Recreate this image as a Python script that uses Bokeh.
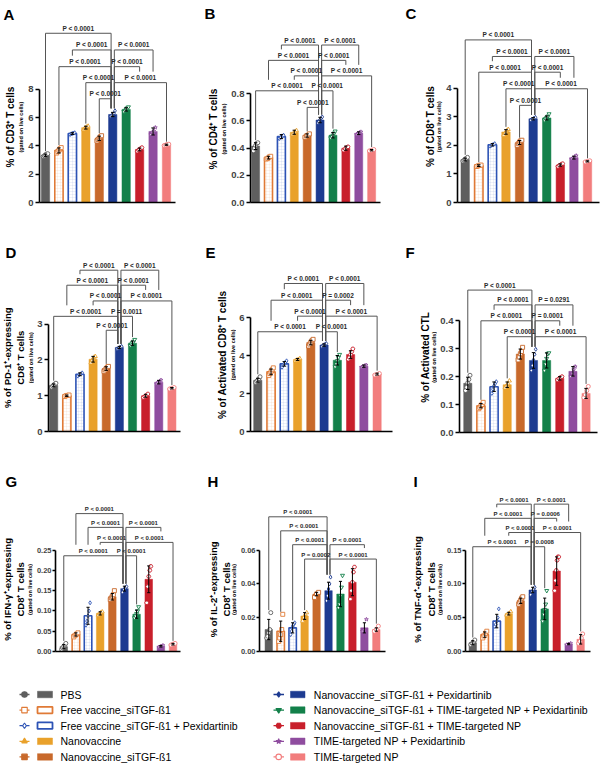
import math
from bokeh.plotting import figure
from bokeh.models import Range1d, FixedTicker, ColumnDataSource
from bokeh.layouts import row, column
from bokeh.embed import file_html
from bokeh.resources import INLINE
from bokeh.core.properties import value

FONT = "Liberation Sans"

# ---------------- data ----------------
groups = ["PBS", "Free vaccine_siTGF-ß1", "Free vaccine_siTGF-ß1 + Pexidartinib", "Nanovaccine",
          "Nanovaccine_siTGF-ß1", "Nanovaccine_siTGF-ß1 + Pexidartinib",
          "Nanovaccine_siTGF-ß1 + TIME-targeted NP + Pexidartinib",
          "Nanovaccine_siTGF-ß1 + TIME-targeted NP", "TIME-targeted NP + Pexidartinib", "TIME-targeted NP"]
colors = ["#5f5f5f", "#e07a36", "#2d53b5", "#e9a12b", "#c8692b", "#1d3b91", "#13804a", "#c81f2b",
          "#8f4d9f", "#f27d7d"]
markers = ["circle", "square", "diamond", "triangle", "square", "diamond", "inverted_triangle", "hex",
           "star", "circle"]
hollow_bar = [False, True, True, False, False, False, False, False, False, False]
hollow_marker = [False, True, True, False, False, False, False, False, False, True]

# Panel A: % of CD3+ T cells
A_mean = [3.34, 3.68, 4.87, 5.29, 4.54, 6.22, 6.58, 3.75, 5.02, 4.08]
A_sd = [0.08, 0.18, 0.06, 0.10, 0.15, 0.15, 0.12, 0.10, 0.25, 0.04]
A_pts = [[3.25, 3.30, 3.38, 3.42, 3.45], [3.50, 3.60, 3.70, 3.80, 3.88], [4.80, 4.85, 4.88, 4.90, 4.93],
         [5.15, 5.25, 5.30, 5.35, 5.40], [4.35, 4.45, 4.55, 4.65, 4.72], [6.10, 6.15, 6.20, 6.30, 6.48],
         [6.42, 6.50, 6.60, 6.68, 6.75], [3.62, 3.70, 3.75, 3.82, 3.88], [4.80, 4.95, 5.05, 5.30],
         [4.03, 4.06, 4.10, 4.12]]
A_ticks = [0, 2, 4, 6, 8]
A_ticklabels = ["0", "2", "4", "6", "8"]
A_ylabel = ["% of CD3⁺ T cells"]
A_brackets = [(1, 6, 11.96, "P < 0.0001"), (3, 6, 10.78, "P < 0.0001"), (6, 9, 10.78, "P < 0.0001"),
              (2, 6, 9.60, "P < 0.0001"), (6, 8, 9.60, "P < 0.0001"), (4, 6, 8.47, "P < 0.0001"),
              (6, 10, 8.47, "P < 0.0001"), (5, 6, 7.33, "P < 0.0001")]

# Panel B: % of CD4+ T cells
B_mean = [0.415, 0.330, 0.485, 0.517, 0.493, 0.607, 0.495, 0.400, 0.510, 0.385]
B_sd = [0.025, 0.010, 0.015, 0.015, 0.012, 0.020, 0.020, 0.015, 0.010, 0.005]
B_pts = [[0.38, 0.40, 0.42, 0.435, 0.44], [0.32, 0.325, 0.335, 0.34], [0.47, 0.48, 0.49, 0.495],
         [0.50, 0.51, 0.52, 0.53], [0.48, 0.49, 0.495, 0.505], [0.585, 0.595, 0.61, 0.62, 0.63],
         [0.475, 0.485, 0.495, 0.51, 0.525], [0.385, 0.395, 0.405, 0.41], [0.50, 0.51, 0.515, 0.52],
         [0.38, 0.385, 0.39]]
B_ticks = [0, 0.2, 0.4, 0.6, 0.8]
B_ticklabels = ["0.0", "0.2", "0.4", "0.6", "0.8"]
B_ylabel = ["% of CD4⁺ T cells"]
B_brackets = [(3, 6, 1.159, "P < 0.0001"), (6, 9, 1.159, "P < 0.0001"), (2, 6, 1.046, "P < 0.0001"),
              (6, 8, 1.046, "P < 0.0001"), (4, 6, 0.932, "P < 0.0001"), (6, 10, 0.932, "P < 0.0001"),
              (1, 6, 0.822, "P < 0.0001"), (6, 7, 0.822, "P < 0.0001"), (5, 6, 0.700, "P < 0.0001")]

# Panel C: % of CD8+ T cells
C_mean = [1.505, 1.29, 2.02, 2.47, 2.10, 2.93, 2.96, 1.31, 1.57, 1.44]
C_sd = [0.05, 0.03, 0.04, 0.08, 0.07, 0.04, 0.07, 0.04, 0.05, 0.02]
C_pts = [[1.45, 1.48, 1.52, 1.55, 1.58], [1.26, 1.28, 1.30, 1.31], [1.97, 2.00, 2.03, 2.06],
         [2.36, 2.42, 2.48, 2.53, 2.56], [2.00, 2.06, 2.12, 2.16, 2.18], [2.88, 2.92, 2.95, 2.98],
         [2.88, 2.93, 2.97, 3.02, 3.10], [1.26, 1.30, 1.33, 1.36], [1.52, 1.56, 1.60, 1.64],
         [1.42, 1.44, 1.46]]
C_ticks = [0, 1, 2, 3, 4]
C_ticklabels = ["0", "1", "2", "3", "4"]
C_ylabel = ["% of CD8⁺ T cells"]
C_brackets = [(1, 6, 5.69, "P < 0.0001"), (3, 6, 5.11, "P < 0.0001"), (6, 9, 5.11, "P < 0.0001"),
              (2, 6, 4.56, "P < 0.0001"), (6, 8, 4.56, "P < 0.0001"), (4, 6, 3.98, "P < 0.0001"),
              (6, 10, 3.98, "P < 0.0001"), (5, 6, 3.40, "P < 0.0001")]

# Panel D: % of PD-1+-expressing CD8+ T cells
D_mean = [1.29, 1.00, 1.60, 2.02, 1.76, 2.35, 2.47, 1.00, 1.38, 1.21]
D_sd = [0.04, 0.02, 0.04, 0.08, 0.05, 0.03, 0.06, 0.04, 0.05, 0.02]
D_pts = [[1.24, 1.27, 1.30, 1.33, 1.35], [0.98, 1.00, 1.01, 1.02], [1.55, 1.58, 1.61, 1.64],
         [1.92, 1.98, 2.04, 2.08, 2.10], [1.68, 1.72, 1.76, 1.80, 1.82], [2.31, 2.33, 2.36, 2.38],
         [2.40, 2.44, 2.48, 2.52, 2.57], [0.95, 0.98, 1.01, 1.05], [1.33, 1.37, 1.40, 1.44],
         [1.19, 1.21, 1.23]]
D_ticks = [0, 1, 2, 3]
D_ticklabels = ["0", "1", "2", "3"]
D_ylabel = ["% of PD-1⁺-expressing", "CD8⁺ T cells"]
D_brackets = [(3, 6, 4.51, "P < 0.0001"), (6, 9, 4.51, "P < 0.0001"), (2, 6, 4.09, "P < 0.0001"),
              (6, 8, 4.09, "P < 0.0001"), (4, 6, 3.65, "P < 0.0001"), (6, 10, 3.65, "P < 0.0001"),
              (1, 6, 3.22, "P < 0.0001"), (6, 7, 3.22, "P = 0.0011"), (5, 6, 2.83, "P < 0.0001")]

# Panel E: % of Activated CD8+ T cells
E_mean = [2.70, 3.14, 3.56, 3.79, 4.68, 4.55, 3.75, 4.05, 3.44, 3.02]
E_sd = [0.10, 0.15, 0.12, 0.05, 0.12, 0.06, 0.25, 0.20, 0.06, 0.05]
E_pts = [[2.58, 2.64, 2.70, 2.78, 2.88], [2.95, 3.05, 3.15, 3.25, 3.35], [3.38, 3.50, 3.58, 3.65, 3.72],
         [3.72, 3.76, 3.80, 3.84], [4.50, 4.60, 4.70, 4.78, 4.85], [4.47, 4.52, 4.56, 4.60, 4.63],
         [3.40, 3.55, 3.72, 3.90, 4.05], [3.80, 3.90, 4.05, 4.20, 4.35], [3.38, 3.42, 3.46, 3.50],
         [2.97, 3.00, 3.05]]
E_ticks = [0, 2, 4, 6]
E_ticklabels = ["0", "2", "4", "6"]
E_ylabel = ["% of Activated CD8⁺ T cells"]
E_brackets = [(3, 6, 7.79, "P < 0.0001"), (6, 9, 7.79, "P < 0.0001"), (2, 6, 6.91, "P < 0.0001"),
              (6, 8, 6.91, "P = 0.0002"), (4, 6, 6.07, "P < 0.0001"), (6, 10, 6.07, "P < 0.0001"),
              (1, 6, 5.25, "P < 0.0001"), (6, 7, 5.25, "P < 0.0001")]

# Panel F: % of Activated CTL
F_mean = [0.176, 0.096, 0.164, 0.171, 0.281, 0.258, 0.258, 0.194, 0.219, 0.140]
F_sd = [0.022, 0.008, 0.017, 0.010, 0.018, 0.028, 0.027, 0.006, 0.017, 0.018]
F_pts = [[0.150, 0.162, 0.178, 0.190, 0.205], [0.085, 0.090, 0.097, 0.100, 0.108],
         [0.140, 0.155, 0.168, 0.175, 0.182], [0.160, 0.167, 0.175, 0.185],
         [0.260, 0.270, 0.282, 0.290, 0.305], [0.222, 0.240, 0.260, 0.280, 0.298],
         [0.222, 0.245, 0.265, 0.282, 0.285], [0.188, 0.193, 0.197, 0.200],
         [0.200, 0.212, 0.225, 0.236], [0.125, 0.135, 0.150, 0.165]]
F_ticks = [0, 0.1, 0.2, 0.3, 0.4]
F_ticklabels = ["0.0", "0.1", "0.2", "0.3", "0.4"]
F_ylabel = ["% of Activated CTL"]
F_brackets = [(1, 6, 0.510, "P < 0.0001"), (3, 6, 0.457, "P < 0.0001"), (6, 9, 0.457, "P = 0.0291"),
              (2, 6, 0.400, "P < 0.0001"), (6, 8, 0.400, "P = 0.0001"), (4, 6, 0.343, "P < 0.0001"),
              (6, 10, 0.343, "P < 0.0001")]

# Panel G: % of IFN-g+-expressing CD8+ T cells
G_mean = [0.012, 0.042, 0.088, 0.094, 0.135, 0.155, 0.092, 0.178, 0.013, 0.018]
G_sd = [0.005, 0.004, 0.021, 0.004, 0.008, 0.006, 0.010, 0.033, 0.002, 0.002]
G_pts = [[0.005, 0.009, 0.013, 0.016, 0.020], [0.036, 0.040, 0.043, 0.046],
         [0.065, 0.075, 0.088, 0.100, 0.120], [0.090, 0.093, 0.096, 0.098],
         [0.128, 0.132, 0.136, 0.140, 0.150], [0.146, 0.152, 0.157, 0.160],
         [0.083, 0.088, 0.093, 0.100, 0.110], [0.120, 0.160, 0.185, 0.200, 0.210],
         [0.011, 0.013, 0.015], [0.016, 0.018, 0.020]]
G_ticks = [0, 0.05, 0.1, 0.15, 0.2, 0.25]
G_ticklabels = ["0.00", "0.05", "0.10", "0.15", "0.20", "0.25"]
G_ylabel = ["% of IFN-γ⁺-expressing", "CD8⁺ T cells"]
G_brackets = [(2, 6, 0.340, "P < 0.0001"), (3, 6, 0.306, "P < 0.0001"), (6, 9, 0.306, "P < 0.0001"),
              (4, 6, 0.269, "P < 0.0001"), (6, 10, 0.269, "P < 0.0001"), (1, 6, 0.236, "P < 0.0001"),
              (6, 7, 0.236, "P < 0.0001")]

# Panel H: % of IL-2+-expressing CD8+ T cells
H_mean = [0.013, 0.012, 0.014, 0.021, 0.034, 0.036, 0.034, 0.041, 0.014, 0.013]
H_sd = [0.006, 0.006, 0.003, 0.002, 0.001, 0.005, 0.0075, 0.008, 0.003, 0.001]
H_pts = [[0.008, 0.009, 0.011, 0.013, 0.023], [0.006, 0.008, 0.010, 0.013, 0.022],
         [0.010, 0.012, 0.015, 0.016, 0.017], [0.018, 0.020, 0.022, 0.023], [0.032, 0.034, 0.035],
         [0.030, 0.033, 0.037, 0.040, 0.044], [0.026, 0.028, 0.033, 0.038, 0.045],
         [0.031, 0.036, 0.041, 0.047, 0.050], [0.012, 0.013, 0.019], [0.012, 0.013, 0.015]]
H_ticks = [0, 0.02, 0.04, 0.06]
H_ticklabels = ["0.00", "0.02", "0.04", "0.06"]
H_ylabel = ["% of IL-2⁺-expressing", "CD8⁺ T cells"]
H_brackets = [(1, 6, 0.0797, "P < 0.0001"), (2, 6, 0.0714, "P < 0.0001"), (3, 6, 0.0632, "P < 0.0001"),
              (6, 9, 0.0632, "P < 0.0001"), (4, 6, 0.0547, "P = 0.0002"), (6, 10, 0.0547, "P < 0.0001")]

# Panel I: % of TNF-a+-expressing CD8+ T cells
I_mean = [0.013, 0.025, 0.045, 0.056, 0.075, 0.091, 0.063, 0.119, 0.011, 0.018]
I_sd = [0.003, 0.004, 0.010, 0.002, 0.004, 0.004, 0.016, 0.021, 0.001, 0.007]
I_pts = [[0.010, 0.012, 0.014, 0.017], [0.020, 0.023, 0.027, 0.030], [0.037, 0.040, 0.045, 0.050, 0.063],
         [0.054, 0.056, 0.059], [0.070, 0.073, 0.076, 0.079, 0.081], [0.084, 0.088, 0.092, 0.095],
         [0.045, 0.055, 0.062, 0.070, 0.090], [0.090, 0.105, 0.120, 0.135, 0.140, 0.140],
         [0.010, 0.011, 0.012], [0.012, 0.015, 0.020, 0.026]]
I_ticks = [0, 0.05, 0.1, 0.15]
I_ticklabels = ["0.00", "0.05", "0.10", "0.15"]
I_ylabel = ["% of TNF-α⁺-expressing", "CD8⁺ T cells"]
I_brackets = [(3, 6, 0.218, "P < 0.0001"), (6, 9, 0.218, "P < 0.0001"), (2, 6, 0.197, "P < 0.0001"),
              (6, 8, 0.197, "P = 0.0006"), (4, 6, 0.176, "P < 0.0001"), (6, 10, 0.176, "P < 0.0001"),
              (1, 6, 0.155, "P < 0.0001"), (6, 7, 0.155, "P = 0.0008")]

SUB_LABEL = "(gated on live cells)"

# ---------------- layout (page pixels) ----------------
COL_LEFT = [0, 200, 400]
COL_W = [200, 200, 200]
ROW_TOP = [0, 232, 463]
ROW_H = [232, 231, 205]

GEO = {
    "A": dict(axis=39, end=175, first=45, last=166, zero=201.5, top=88.3, ta=14,
              lab=[10], sub=20.5, letter=(3, 16)),
    "B": dict(axis=248.3, end=380, first=253.5, last=371.3, zero=202, top=93.3, ta=20,
              lab=[13], sub=23, letter=(4, 15)),
    "C": dict(axis=457.3, end=599, first=465, last=587.3, zero=202, top=87.7, ta=14,
              lab=[30], sub=38.5, letter=(5, 15)),
    "D": dict(axis=48.3, end=180, first=53.5, last=171.7, zero=431.3, top=324, ta=14,
              lab=[6.7, 19.5], sub=30.3, letter=(5, 23)),
    "E": dict(axis=248.3, end=391.7, first=255.7, last=376.7, zero=431.3, top=317.3, ta=12,
              lab=[21.7], sub=32.5, letter=(5, 23)),
    "F": dict(axis=457.3, end=596.7, first=465.7, last=585.7, zero=431.7, top=320, ta=20,
              lab=[25], sub=33.5, letter=(5, 23)),
    "G": dict(axis=53.3, end=180, first=61.7, last=172.7, zero=650.7, top=549.3, ta=20,
              lab=[6.7, 20], sub=29.8, letter=(5, 20)),
    "H": dict(axis=257.3, end=385, first=266.7, last=376, zero=650.7, top=549.3, ta=20,
              lab=[13.3, 26], sub=33.8, letter=(7, 20)),
    "I": dict(axis=463.3, end=590, first=470.7, last=580.3, zero=650.7, top=549.3, ta=20,
              lab=[17.3, 30.7], sub=39.8, letter=(13, 20)),
}


def make_panel(key, col, rowi, means, sds, pts, ticks, ticklabels, ylabel, brackets, small=False):
    g = GEO[key]
    CW, H = COL_W[col], ROW_H[rowi]
    cl, rt = COL_LEFT[col], ROW_TOP[rowi]
    ax = g["axis"] - cl
    LW = int(round(ax - g["ta"]))
    W = CW - LW
    L = int(round(ax)) - LW
    R = int(round(CW - (g["end"] - cl)))
    z = g["zero"] - rt
    B = int(round(H - z))
    fh = H - B
    fw = W - L - R
    ppu = (g["zero"] - g["top"]) / ticks[-1]
    ytop = fh / ppu
    sp = (g["last"] - g["first"]) / 9.0
    x0 = 1 - (g["first"] - g["axis"]) / sp
    x1 = x0 + fw / sp

    # ---- side strip holding the panel letter and rotated axis titles ----
    s = figure(width=LW, height=H, x_range=Range1d(0, LW), y_range=Range1d(0, H),
               x_axis_type=None, y_axis_type=None, output_backend="svg", toolbar_location=None,
               min_border=0)
    s.outline_line_color = None
    s.grid.visible = False
    ymid = H - (fh - ticks[-1] * ppu / 2.0)
    main_size = "9.5px" if len(ylabel) > 1 else "10px"
    s.text(x=g["lab"], y=[ymid] * len(ylabel), text=ylabel, angle=math.pi / 2,
           text_align="center", text_baseline="middle", text_font=value(FONT),
           text_font_size=value(main_size), text_font_style="bold", text_color="black")
    s.text(x=[g["sub"]], y=[ymid], text=[SUB_LABEL], angle=math.pi / 2, text_align="center",
           text_baseline="middle", text_font=value(FONT), text_font_size=value("5.5px"),
           text_font_style="bold", text_color="black")
    lx, lb = g["letter"]
    s.text(x=[lx], y=[H - lb], text=[key], text_align="left", text_baseline="alphabetic",
           text_font=value(FONT), text_font_size=value("15px"), text_font_style="bold",
           text_color="black")

    # ---- the bar chart ----
    p = figure(width=W, height=H, x_range=Range1d(x0, x1), y_range=Range1d(0, ytop),
               output_backend="svg", toolbar_location=None, min_border_left=L, min_border_right=R,
               min_border_top=0, min_border_bottom=B)
    p.outline_line_color = None
    p.grid.visible = False

    yax = p.yaxis[0]
    yax.ticker = FixedTicker(ticks=ticks)
    yax.major_label_overrides = {t: lab for t, lab in zip(ticks, ticklabels)}
    yax.bounds = (0, ticks[-1])
    yax.axis_line_width = 1.6
    yax.major_tick_line_width = 1.6
    yax.major_tick_out = 3 if small else 4
    yax.major_tick_in = 0
    yax.minor_tick_line_color = None
    yax.major_label_text_font = FONT
    yax.major_label_text_font_style = "bold"
    yax.major_label_text_font_size = "7.5px" if small else "9.5px"
    yax.major_label_standoff = 1 if small else 2
    xax = p.xaxis[0]
    xax.ticker = FixedTicker(ticks=[])
    xax.axis_line_width = 1.6
    xax.major_tick_line_color = None
    xax.minor_tick_line_color = None
    xax.major_label_standoff = 0

    xs = list(range(1, 11))
    src = ColumnDataSource(dict(
        x=xs, top=means,
        fill=["white" if h else c for h, c in zip(hollow_bar, colors)],
        line=colors,
        lw=[1.6 if h else 0.5 for h in hollow_bar],
        hatch=["cross" if h else " " for h in hollow_bar],
    ))
    p.vbar(x="x", top="top", bottom=0, width=0.62, fill_color="fill", line_color="line",
           line_width="lw", hatch_pattern="hatch", hatch_color="line", hatch_alpha=0.14,
           hatch_scale=3, hatch_weight=0.6, source=src)

    # individual points
    px, py, pm, pc = [], [], [], []
    for k in range(10):
        n = len(pts[k])
        for m, v in enumerate(pts[k]):
            off = 0.0 if n == 1 else (m - (n - 1) / 2.0) * (0.34 / (n - 1))
            px.append(xs[k] + off)
            py.append(v)
            pm.append(markers[k])
            pc.append(colors[k])
    p.scatter(x="x", y="y", marker="m", size=4.0, fill_color="white", line_color="c",
              line_width=0.9, source=ColumnDataSource(dict(x=px, y=py, m=pm, c=pc)))

    # error bars (mean +/- SD)
    lo = [m - sd for m, sd in zip(means, sds)]
    hi = [m + sd for m, sd in zip(means, sds)]
    p.segment(x0=xs, y0=lo, x1=xs, y1=hi, line_color="black", line_width=1)
    cw = 0.13
    p.segment(x0=[x - cw for x in xs], y0=hi, x1=[x + cw for x in xs], y1=hi, line_color="black",
              line_width=1)
    p.segment(x0=[x - cw for x in xs], y0=lo, x1=[x + cw for x in xs], y1=lo, line_color="black",
              line_width=1)

    # significance brackets
    gap = 2.5 / ppu
    clear = 11.0 / ppu
    d = 0.12

    def bar_top(k):
        return max(means[k - 1] + sds[k - 1], max(pts[k - 1])) + gap

    def ends(i, j):
        return i + (d if i == 6 else 0.0), j - (d if j == 6 else 0.0)

    def leg_bottom(xp, bar, h):
        stops = [bar_top(bar)]
        for (i2, j2, h2, _t) in brackets:
            if h2 < h - 1e-9:
                a, b = ends(i2, j2)
                if a + 1e-6 < xp < b - 1e-6:
                    stops.append(h2 + clear)
        return max(stops)

    mxs, mys, tx, ty, tt = [], [], [], [], []
    for (i, j, h, t) in brackets:
        a, b = ends(i, j)
        mxs.append([a, a, b, b])
        mys.append([leg_bottom(a, i, h), h, h, leg_bottom(b, j, h)])
        tx.append((a + b) / 2.0)
        ty.append(h)
        tt.append(t)
    p.multi_line(xs=mxs, ys=mys, line_color="#555555", line_width=1)
    p.text(x=tx, y=ty, text=tt, text_align="center", text_baseline="bottom", y_offset=-1.5,
           text_font=value(FONT), text_font_size=value("6px" if small else "6.5px"),
           text_font_style="bold", text_color="#2a2a2a")
    return row(s, p)


pA = make_panel("A", 0, 0, A_mean, A_sd, A_pts, A_ticks, A_ticklabels, A_ylabel, A_brackets)
pB = make_panel("B", 1, 0, B_mean, B_sd, B_pts, B_ticks, B_ticklabels, B_ylabel, B_brackets)
pC = make_panel("C", 2, 0, C_mean, C_sd, C_pts, C_ticks, C_ticklabels, C_ylabel, C_brackets)
pD = make_panel("D", 0, 1, D_mean, D_sd, D_pts, D_ticks, D_ticklabels, D_ylabel, D_brackets)
pE = make_panel("E", 1, 1, E_mean, E_sd, E_pts, E_ticks, E_ticklabels, E_ylabel, E_brackets)
pF = make_panel("F", 2, 1, F_mean, F_sd, F_pts, F_ticks, F_ticklabels, F_ylabel, F_brackets)
pG = make_panel("G", 0, 2, G_mean, G_sd, G_pts, G_ticks, G_ticklabels, G_ylabel, G_brackets, small=True)
pH = make_panel("H", 1, 2, H_mean, H_sd, H_pts, H_ticks, H_ticklabels, H_ylabel, H_brackets, small=True)
pI = make_panel("I", 2, 2, I_mean, I_sd, I_pts, I_ticks, I_ticklabels, I_ylabel, I_brackets, small=True)

# ---------------- legend ----------------
LEG_H = 98
leg = figure(width=600, height=LEG_H, x_range=Range1d(0, 600), y_range=Range1d(LEG_H, 0),
             x_axis_type=None, y_axis_type=None, output_backend="svg", toolbar_location=None,
             min_border=0)
leg.outline_line_color = None
leg.grid.visible = False

LEG_COLS = [dict(l0=19.0, l1=29.0, mk=24.0, r0=37.0, r1=52.0, tx=60.0),
            dict(l0=273.0, l1=283.5, mk=278.2, r0=290.0, r1=304.5, tx=313.3)]
ROW0, ROWSTEP = 26.0, 15.6
ls0, ls1, lyy, mkx, mkm, mkc, mkf = [], [], [], [], [], [], []
rx, rw, rfill, rline, rlw, tx, txt = [], [], [], [], [], [], []
for k in range(10):
    cfg = LEG_COLS[0 if k < 5 else 1]
    yk = ROW0 + (k % 5) * ROWSTEP
    ls0.append(cfg["l0"]); ls1.append(cfg["l1"]); lyy.append(yk)
    mkx.append(cfg["mk"]); mkm.append(markers[k]); mkc.append(colors[k])
    mkf.append("white" if hollow_marker[k] else colors[k])
    rx.append((cfg["r0"] + cfg["r1"]) / 2.0); rw.append(cfg["r1"] - cfg["r0"])
    rfill.append("white" if hollow_bar[k] else colors[k])
    rline.append(colors[k]); rlw.append(1.8 if hollow_bar[k] else 0.5)
    tx.append(cfg["tx"]); txt.append(groups[k])

leg.segment(x0=ls0, y0=lyy, x1=ls1, y1=lyy, line_color=mkc, line_width=1.3)
leg.scatter(x="x", y="y", marker="m", size=5.5, fill_color="f", line_color="c", line_width=1.1,
            source=ColumnDataSource(dict(x=mkx, y=lyy, m=mkm, f=mkf, c=mkc)))
leg.rect(x=rx, y=lyy, width=rw, height=6.5, fill_color=rfill, line_color=rline, line_width=rlw)
leg.text(x=tx, y=lyy, text=txt, text_align="left", text_baseline="middle",
         text_font=value(FONT), text_font_size=value("10.5px"), text_color="black")

layout = column(row(pA, pB, pC), row(pD, pE, pF), row(pG, pH, pI), leg)
open("out.html", "w").write(file_html(layout, INLINE))
